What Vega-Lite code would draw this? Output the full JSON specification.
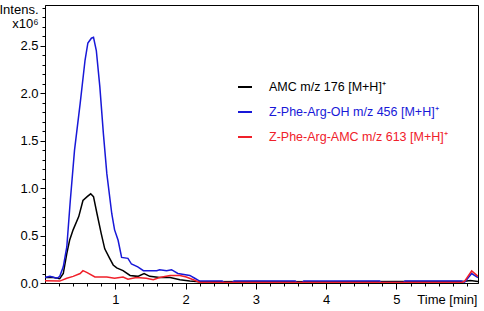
{
  "$schema": "https://vega.github.io/schema/vega-lite/v6.json",
  "width": 433,
  "height": 278,
  "autosize": {"type": "none"},
  "padding": {"left": 45, "top": 5, "right": 6, "bottom": 28},
  "background": "white",
  "config": {
    "view": {"stroke": "black", "strokeWidth": 1},
    "font": "Liberation Sans",
    "axis": {"domainColor": "black", "tickColor": "black", "labelColor": "black", "titleColor": "black", "grid": false, "labelFont": "Liberation Sans", "titleFont": "Liberation Sans"}
  },
  "data": {
    "values": [
      {"t": 0, "v": 0.057, "s": "AMC m/z 176 [M+H]⁺"},
      {"t": 0.1, "v": 0.06, "s": "AMC m/z 176 [M+H]⁺"},
      {"t": 0.21, "v": 0.046, "s": "AMC m/z 176 [M+H]⁺"},
      {"t": 0.26, "v": 0.10, "s": "AMC m/z 176 [M+H]⁺"},
      {"t": 0.31, "v": 0.31, "s": "AMC m/z 176 [M+H]⁺"},
      {"t": 0.35, "v": 0.45, "s": "AMC m/z 176 [M+H]⁺"},
      {"t": 0.40, "v": 0.56, "s": "AMC m/z 176 [M+H]⁺"},
      {"t": 0.48, "v": 0.70, "s": "AMC m/z 176 [M+H]⁺"},
      {"t": 0.54, "v": 0.87, "s": "AMC m/z 176 [M+H]⁺"},
      {"t": 0.60, "v": 0.91, "s": "AMC m/z 176 [M+H]⁺"},
      {"t": 0.65, "v": 0.94, "s": "AMC m/z 176 [M+H]⁺"},
      {"t": 0.69, "v": 0.91, "s": "AMC m/z 176 [M+H]⁺"},
      {"t": 0.74, "v": 0.73, "s": "AMC m/z 176 [M+H]⁺"},
      {"t": 0.80, "v": 0.52, "s": "AMC m/z 176 [M+H]⁺"},
      {"t": 0.85, "v": 0.36, "s": "AMC m/z 176 [M+H]⁺"},
      {"t": 0.92, "v": 0.26, "s": "AMC m/z 176 [M+H]⁺"},
      {"t": 0.97, "v": 0.19, "s": "AMC m/z 176 [M+H]⁺"},
      {"t": 1.02, "v": 0.16, "s": "AMC m/z 176 [M+H]⁺"},
      {"t": 1.11, "v": 0.13, "s": "AMC m/z 176 [M+H]⁺"},
      {"t": 1.21, "v": 0.08, "s": "AMC m/z 176 [M+H]⁺"},
      {"t": 1.32, "v": 0.07, "s": "AMC m/z 176 [M+H]⁺"},
      {"t": 1.41, "v": 0.10, "s": "AMC m/z 176 [M+H]⁺"},
      {"t": 1.49, "v": 0.07, "s": "AMC m/z 176 [M+H]⁺"},
      {"t": 1.63, "v": 0.057, "s": "AMC m/z 176 [M+H]⁺"},
      {"t": 1.78, "v": 0.057, "s": "AMC m/z 176 [M+H]⁺"},
      {"t": 1.92, "v": 0.035, "s": "AMC m/z 176 [M+H]⁺"},
      {"t": 2.06, "v": 0.02, "s": "AMC m/z 176 [M+H]⁺"},
      {"t": 2.20, "v": 0.012, "s": "AMC m/z 176 [M+H]⁺"},
      {"t": 3.0, "v": 0.015, "s": "AMC m/z 176 [M+H]⁺"},
      {"t": 4.0, "v": 0.012, "s": "AMC m/z 176 [M+H]⁺"},
      {"t": 5.0, "v": 0.015, "s": "AMC m/z 176 [M+H]⁺"},
      {"t": 5.95, "v": 0.015, "s": "AMC m/z 176 [M+H]⁺"},
      {"t": 6.05, "v": 0.025, "s": "AMC m/z 176 [M+H]⁺"},
      {"t": 6.16, "v": 0.015, "s": "AMC m/z 176 [M+H]⁺"},

      {"t": 0, "v": 0.057, "s": "Z-Phe-Arg-OH m/z 456 [M+H]⁺"},
      {"t": 0.07, "v": 0.07, "s": "Z-Phe-Arg-OH m/z 456 [M+H]⁺"},
      {"t": 0.17, "v": 0.05, "s": "Z-Phe-Arg-OH m/z 456 [M+H]⁺"},
      {"t": 0.21, "v": 0.07, "s": "Z-Phe-Arg-OH m/z 456 [M+H]⁺"},
      {"t": 0.26, "v": 0.17, "s": "Z-Phe-Arg-OH m/z 456 [M+H]⁺"},
      {"t": 0.31, "v": 0.38, "s": "Z-Phe-Arg-OH m/z 456 [M+H]⁺"},
      {"t": 0.36, "v": 0.87, "s": "Z-Phe-Arg-OH m/z 456 [M+H]⁺"},
      {"t": 0.42, "v": 1.40, "s": "Z-Phe-Arg-OH m/z 456 [M+H]⁺"},
      {"t": 0.50, "v": 1.89, "s": "Z-Phe-Arg-OH m/z 456 [M+H]⁺"},
      {"t": 0.57, "v": 2.35, "s": "Z-Phe-Arg-OH m/z 456 [M+H]⁺"},
      {"t": 0.61, "v": 2.53, "s": "Z-Phe-Arg-OH m/z 456 [M+H]⁺"},
      {"t": 0.66, "v": 2.58, "s": "Z-Phe-Arg-OH m/z 456 [M+H]⁺"},
      {"t": 0.69, "v": 2.59, "s": "Z-Phe-Arg-OH m/z 456 [M+H]⁺"},
      {"t": 0.73, "v": 2.45, "s": "Z-Phe-Arg-OH m/z 456 [M+H]⁺"},
      {"t": 0.78, "v": 2.07, "s": "Z-Phe-Arg-OH m/z 456 [M+H]⁺"},
      {"t": 0.83, "v": 1.58, "s": "Z-Phe-Arg-OH m/z 456 [M+H]⁺"},
      {"t": 0.88, "v": 1.15, "s": "Z-Phe-Arg-OH m/z 456 [M+H]⁺"},
      {"t": 0.95, "v": 0.73, "s": "Z-Phe-Arg-OH m/z 456 [M+H]⁺"},
      {"t": 0.99, "v": 0.56, "s": "Z-Phe-Arg-OH m/z 456 [M+H]⁺"},
      {"t": 1.04, "v": 0.45, "s": "Z-Phe-Arg-OH m/z 456 [M+H]⁺"},
      {"t": 1.09, "v": 0.27, "s": "Z-Phe-Arg-OH m/z 456 [M+H]⁺"},
      {"t": 1.18, "v": 0.26, "s": "Z-Phe-Arg-OH m/z 456 [M+H]⁺"},
      {"t": 1.23, "v": 0.20, "s": "Z-Phe-Arg-OH m/z 456 [M+H]⁺"},
      {"t": 1.32, "v": 0.17, "s": "Z-Phe-Arg-OH m/z 456 [M+H]⁺"},
      {"t": 1.40, "v": 0.13, "s": "Z-Phe-Arg-OH m/z 456 [M+H]⁺"},
      {"t": 1.59, "v": 0.13, "s": "Z-Phe-Arg-OH m/z 456 [M+H]⁺"},
      {"t": 1.63, "v": 0.14, "s": "Z-Phe-Arg-OH m/z 456 [M+H]⁺"},
      {"t": 1.73, "v": 0.13, "s": "Z-Phe-Arg-OH m/z 456 [M+H]⁺"},
      {"t": 1.80, "v": 0.14, "s": "Z-Phe-Arg-OH m/z 456 [M+H]⁺"},
      {"t": 1.89, "v": 0.10, "s": "Z-Phe-Arg-OH m/z 456 [M+H]⁺"},
      {"t": 2.06, "v": 0.08, "s": "Z-Phe-Arg-OH m/z 456 [M+H]⁺"},
      {"t": 2.13, "v": 0.05, "s": "Z-Phe-Arg-OH m/z 456 [M+H]⁺"},
      {"t": 2.20, "v": 0.02, "s": "Z-Phe-Arg-OH m/z 456 [M+H]⁺"},
      {"t": 2.52, "v": 0.02, "s": "Z-Phe-Arg-OH m/z 456 [M+H]⁺"},
      {"t": 2.55, "v": 0.005, "s": "Z-Phe-Arg-OH m/z 456 [M+H]⁺"},
      {"t": 2.66, "v": 0.005, "s": "Z-Phe-Arg-OH m/z 456 [M+H]⁺"},
      {"t": 2.69, "v": 0.02, "s": "Z-Phe-Arg-OH m/z 456 [M+H]⁺"},
      {"t": 3.56, "v": 0.02, "s": "Z-Phe-Arg-OH m/z 456 [M+H]⁺"},
      {"t": 3.58, "v": 0.005, "s": "Z-Phe-Arg-OH m/z 456 [M+H]⁺"},
      {"t": 3.66, "v": 0.005, "s": "Z-Phe-Arg-OH m/z 456 [M+H]⁺"},
      {"t": 3.68, "v": 0.02, "s": "Z-Phe-Arg-OH m/z 456 [M+H]⁺"},
      {"t": 4.76, "v": 0.02, "s": "Z-Phe-Arg-OH m/z 456 [M+H]⁺"},
      {"t": 4.78, "v": 0.005, "s": "Z-Phe-Arg-OH m/z 456 [M+H]⁺"},
      {"t": 5.10, "v": 0.005, "s": "Z-Phe-Arg-OH m/z 456 [M+H]⁺"},
      {"t": 5.12, "v": 0.02, "s": "Z-Phe-Arg-OH m/z 456 [M+H]⁺"},
      {"t": 5.92, "v": 0.02, "s": "Z-Phe-Arg-OH m/z 456 [M+H]⁺"},
      {"t": 5.97, "v": 0.01, "s": "Z-Phe-Arg-OH m/z 456 [M+H]⁺"},
      {"t": 6.07, "v": 0.10, "s": "Z-Phe-Arg-OH m/z 456 [M+H]⁺"},
      {"t": 6.16, "v": 0.057, "s": "Z-Phe-Arg-OH m/z 456 [M+H]⁺"},

      {"t": 0, "v": 0.025, "s": "Z-Phe-Arg-AMC m/z 613 [M+H]⁺"},
      {"t": 0.21, "v": 0.02, "s": "Z-Phe-Arg-AMC m/z 613 [M+H]⁺"},
      {"t": 0.31, "v": 0.05, "s": "Z-Phe-Arg-AMC m/z 613 [M+H]⁺"},
      {"t": 0.40, "v": 0.07, "s": "Z-Phe-Arg-AMC m/z 613 [M+H]⁺"},
      {"t": 0.50, "v": 0.10, "s": "Z-Phe-Arg-AMC m/z 613 [M+H]⁺"},
      {"t": 0.54, "v": 0.13, "s": "Z-Phe-Arg-AMC m/z 613 [M+H]⁺"},
      {"t": 0.60, "v": 0.11, "s": "Z-Phe-Arg-AMC m/z 613 [M+H]⁺"},
      {"t": 0.71, "v": 0.063, "s": "Z-Phe-Arg-AMC m/z 613 [M+H]⁺"},
      {"t": 0.88, "v": 0.063, "s": "Z-Phe-Arg-AMC m/z 613 [M+H]⁺"},
      {"t": 0.99, "v": 0.05, "s": "Z-Phe-Arg-AMC m/z 613 [M+H]⁺"},
      {"t": 1.11, "v": 0.063, "s": "Z-Phe-Arg-AMC m/z 613 [M+H]⁺"},
      {"t": 1.18, "v": 0.04, "s": "Z-Phe-Arg-AMC m/z 613 [M+H]⁺"},
      {"t": 1.30, "v": 0.057, "s": "Z-Phe-Arg-AMC m/z 613 [M+H]⁺"},
      {"t": 1.44, "v": 0.05, "s": "Z-Phe-Arg-AMC m/z 613 [M+H]⁺"},
      {"t": 1.54, "v": 0.035, "s": "Z-Phe-Arg-AMC m/z 613 [M+H]⁺"},
      {"t": 1.63, "v": 0.057, "s": "Z-Phe-Arg-AMC m/z 613 [M+H]⁺"},
      {"t": 1.78, "v": 0.078, "s": "Z-Phe-Arg-AMC m/z 613 [M+H]⁺"},
      {"t": 1.92, "v": 0.078, "s": "Z-Phe-Arg-AMC m/z 613 [M+H]⁺"},
      {"t": 2.01, "v": 0.063, "s": "Z-Phe-Arg-AMC m/z 613 [M+H]⁺"},
      {"t": 2.11, "v": 0.035, "s": "Z-Phe-Arg-AMC m/z 613 [M+H]⁺"},
      {"t": 2.20, "v": 0.005, "s": "Z-Phe-Arg-AMC m/z 613 [M+H]⁺"},
      {"t": 5.93, "v": 0.005, "s": "Z-Phe-Arg-AMC m/z 613 [M+H]⁺"},
      {"t": 5.97, "v": 0.02, "s": "Z-Phe-Arg-AMC m/z 613 [M+H]⁺"},
      {"t": 6.07, "v": 0.127, "s": "Z-Phe-Arg-AMC m/z 613 [M+H]⁺"},
      {"t": 6.16, "v": 0.07, "s": "Z-Phe-Arg-AMC m/z 613 [M+H]⁺"}
    ]
  },
  "resolve": {"axis": {"x": "independent", "y": "independent"}},
  "layer": [
    {
      "mark": {"type": "line", "strokeWidth": 1.5, "clip": true},
      "encoding": {
        "x": {
          "field": "t", "type": "quantitative",
          "scale": {"domain": [0, 6.16], "nice": false, "zero": false},
          "axis": {
            "orient": "bottom", "values": [1, 2, 3, 4, 5], "tickSize": 6, "labelPadding": 4,
            "labelFontSize": 13, "labelFlush": false,
            "title": "Time [min]", "titleFontSize": 13, "titleFontWeight": "normal",
            "titleAnchor": "end", "titleAlign": "right", "titleBaseline": "top",
            "titleX": 432, "titleY": 10, "titleAngle": 0
          }
        },
        "y": {
          "field": "v", "type": "quantitative",
          "scale": {"domain": [0, 2.93], "nice": false},
          "axis": {
            "orient": "left", "values": [0, 0.5, 1, 1.5, 2, 2.5], "format": ".1f",
            "tickSize": 5, "labelPadding": 2, "labelFontSize": 13, "labelFlush": false,
            "title": ["Intens.", "x10⁶"], "titleFontSize": 13, "titleFontWeight": "normal",
            "titleAngle": 0, "titleAlign": "right", "titleBaseline": "top",
            "titleX": -7, "titleY": -2, "titleLineHeight": 14
          }
        },
        "color": {
          "field": "s", "type": "nominal",
          "scale": {
            "domain": ["AMC m/z 176 [M+H]⁺", "Z-Phe-Arg-OH m/z 456 [M+H]⁺", "Z-Phe-Arg-AMC m/z 613 [M+H]⁺"],
            "range": ["#000000", "#1818d8", "#f0202a"]
          },
          "legend": {
            "orient": "none", "legendX": 192, "legendY": 74, "title": null, "padding": 0,
            "symbolType": "stroke", "symbolStrokeWidth": 2, "symbolSize": 196,
            "labelFontSize": 12.5, "labelFont": "Liberation Sans", "labelOffset": 16, "rowPadding": 10,
            "labelLimit": 300,
            "encode": {"labels": {"update": {"fill": {"scale": "color", "field": "value"}}}}
          }
        }
      }
    },
    {
      "mark": {"type": "line", "strokeOpacity": 0},
      "encoding": {
        "x": {
          "field": "t", "type": "quantitative",
          "axis": {
            "orient": "bottom", "values": [0.2, 0.4, 0.6, 0.8, 1.2, 1.4, 1.6, 1.8, 2.2, 2.4, 2.6, 2.8, 3.2, 3.4, 3.6, 3.8, 4.2, 4.4, 4.6, 4.8, 5.2, 5.4, 5.6, 5.8, 6.0],
            "tickSize": 3, "labels": false, "domain": false, "title": null
          }
        },
        "y": {
          "field": "v", "type": "quantitative",
          "axis": {
            "orient": "left", "values": [0.1, 0.2, 0.3, 0.4, 0.6, 0.7, 0.8, 0.9, 1.1, 1.2, 1.3, 1.4, 1.6, 1.7, 1.8, 1.9, 2.1, 2.2, 2.3, 2.4, 2.6, 2.7, 2.8, 2.9],
            "tickSize": 3, "labels": false, "domain": false, "title": null
          }
        },
        "detail": {"field": "s", "type": "nominal"}
      }
    }
  ]
}
